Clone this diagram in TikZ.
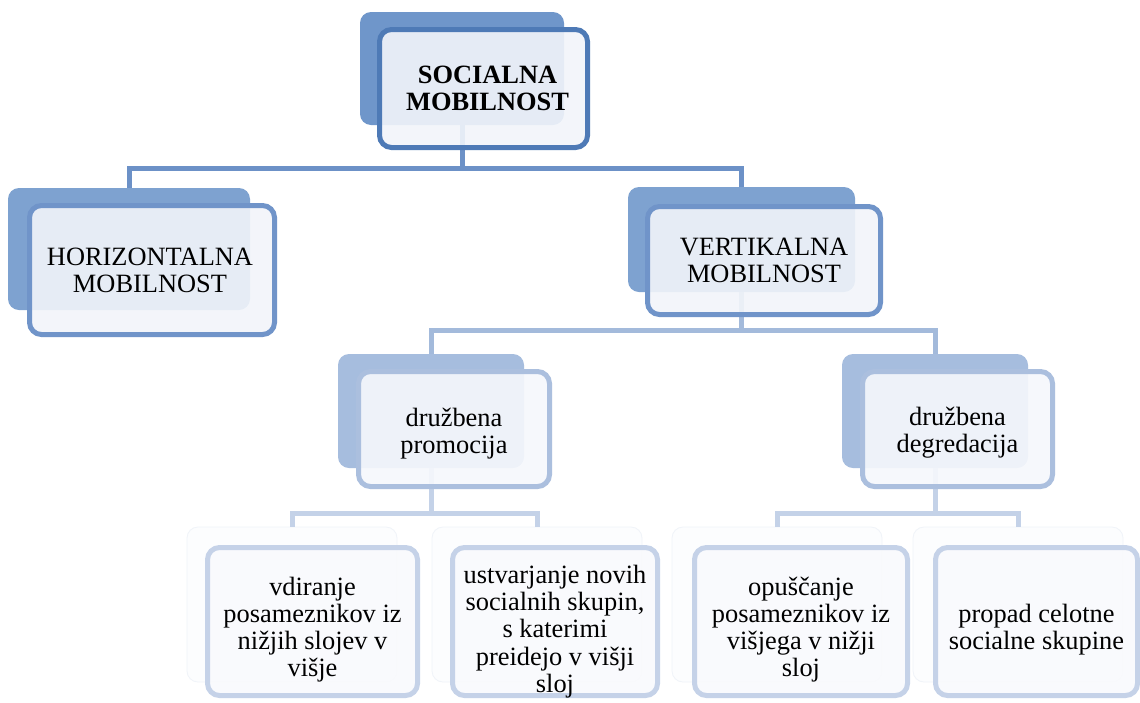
\documentclass[tikz,border=0pt]{standalone}
\usepackage{fontspec}
\setmainfont{Liberation Serif}
\definecolor{backA}{HTML}{6F96CA}
\definecolor{frontA}{HTML}{4E7AB6}
\definecolor{fillA}{HTML}{F2F5FA}
\definecolor{backB}{HTML}{7EA2D0}
\definecolor{frontB}{HTML}{7094C9}
\definecolor{fillB}{HTML}{F2F5FA}
\definecolor{backC}{HTML}{A6BDDE}
\definecolor{frontC}{HTML}{ABBFDE}
\definecolor{fillC}{HTML}{F6F8FC}
\definecolor{backD}{HTML}{FCFDFE}
\definecolor{frontD}{HTML}{C5D2E8}
\definecolor{fillD}{HTML}{F9FAFD}
\definecolor{connA}{HTML}{6C91C7}
\definecolor{connB}{HTML}{A3BADB}
\definecolor{connC}{HTML}{C4D2E8}
\tikzset{
  backbox/.style={rectangle, rounded corners=11pt, draw=none, inner sep=0pt},
  frontbox/.style={rectangle, rounded corners=12pt, line width=5pt, inner sep=0pt, fill opacity=0.9},
  label/.style={align=center, inner sep=0pt, font=\fontsize{26.4}{27.2}\selectfont},
  lvA/.style={fill=backA},
  lvAf/.style={draw=frontA, fill=fillA},
  lvB/.style={fill=backB},
  lvBf/.style={draw=frontB, fill=fillB},
  lvC/.style={fill=backC},
  lvCf/.style={draw=frontC, fill=fillC},
  lvD/.style={fill=backD, draw=frontD!25, line width=0.8pt},
  lvDf/.style={draw=frontD, fill=fillD},
  connector/.style={line width=5pt},
}
\begin{document}
\begin{tikzpicture}[x=1pt,y=-1pt]
\useasboundingbox[fill=white] (0,0) rectangle (1140,702);

% back boxes
\node[backbox, lvA, minimum width=204pt, minimum height=113pt] (b0) at (462,68.5) {};
\node[backbox, lvB, minimum width=242pt, minimum height=122pt] (b1) at (129,249) {};
\node[backbox, lvB, minimum width=227pt, minimum height=105pt] (b2) at (741.5,239.5) {};
\node[backbox, lvC, minimum width=186pt, minimum height=114pt] (b3) at (431,411) {};
\node[backbox, lvC, minimum width=186pt, minimum height=114pt] (b4) at (935,411) {};
\node[backbox, lvD, minimum width=210pt, minimum height=155pt] (b5) at (292,604.5) {};
\node[backbox, lvD, minimum width=210pt, minimum height=155pt] (b6) at (537,604.5) {};
\node[backbox, lvD, minimum width=210pt, minimum height=155pt] (b7) at (777,604.5) {};
\node[backbox, lvD, minimum width=210pt, minimum height=155pt] (b8) at (1018,604.5) {};

% connectors
\draw[connector, connA] (b0.south) -- (b0.south |- 0,168) coordinate (j0);
\draw[connector, connA, line join=miter] (b1.north) |- (j0) -| (b2.north);
\draw[connector, connB] (b2.south) -- (b2.south |- 0,330) coordinate (j1);
\draw[connector, connB, line join=miter] (b3.north) |- (j1) -| (b4.north);
\draw[connector, connC] (b3.south) -- (b3.south |- 0,513) coordinate (j2);
\draw[connector, connC, line join=miter] (b5.north) |- (j2) -| (b6.north);
\draw[connector, connC] (b4.south) -- (b4.south |- 0,513) coordinate (j3);
\draw[connector, connC, line join=miter] (b7.north) |- (j3) -| (b8.north);

% front boxes
\node[frontbox, lvAf, minimum width=208pt, minimum height=118pt] (f0) at (483.5,88.5) {};
\node[frontbox, lvBf, minimum width=245pt, minimum height=129pt] (f1) at (152,270) {};
\node[frontbox, lvBf, minimum width=233pt, minimum height=108pt] (f2) at (764,260.5) {};
\node[frontbox, lvCf, minimum width=191pt, minimum height=115pt] (f3) at (454,429) {};
\node[frontbox, lvCf, minimum width=190pt, minimum height=115pt] (f4) at (957.5,429) {};
\node[frontbox, lvDf, minimum width=210pt, minimum height=148pt] (f5) at (312.5,621.5) {};
\node[frontbox, lvDf, minimum width=205pt, minimum height=148pt] (f6) at (555,621.5) {};
\node[frontbox, lvDf, minimum width=213pt, minimum height=148pt] (f7) at (801,621.5) {};
\node[frontbox, lvDf, minimum width=202pt, minimum height=148pt] (f8) at (1036.5,621.5) {};

% texts (negative yshift moves text down)
\node[label] (t0) at ([xshift=4pt]f0.center) {\textbf{SOCIALNA}\\\textbf{MOBILNOST}};
\node[label] (t1) at ([xshift=-2pt]f1.center) {HORIZONTALNA\\MOBILNOST};
\node[label] (t2) at (f2.center) {VERTIKALNA\\MOBILNOST};
\node[label] (t3) at ([yshift=-5pt]f3.center) {družbena\\promocija};
\node[label] (t4) at ([yshift=-4pt]f4.center) {družbena\\degredacija};
\node[label] (t5) at ([yshift=-8pt]f5.center) {vdiranje\\posameznikov iz\\nižjih slojev v\\višje};
\node[label] (t6) at ([yshift=-10pt]f6.center) {ustvarjanje novih\\socialnih skupin,\\s katerimi\\preidejo v višji\\sloj};
\node[label] (t7) at ([yshift=-8pt]f7.center) {opuščanje\\posameznikov iz\\višjega v nižji\\sloj};
\node[label] (t8) at ([yshift=-8pt]f8.center) {propad celotne\\socialne skupine};
\end{tikzpicture}
\end{document}
